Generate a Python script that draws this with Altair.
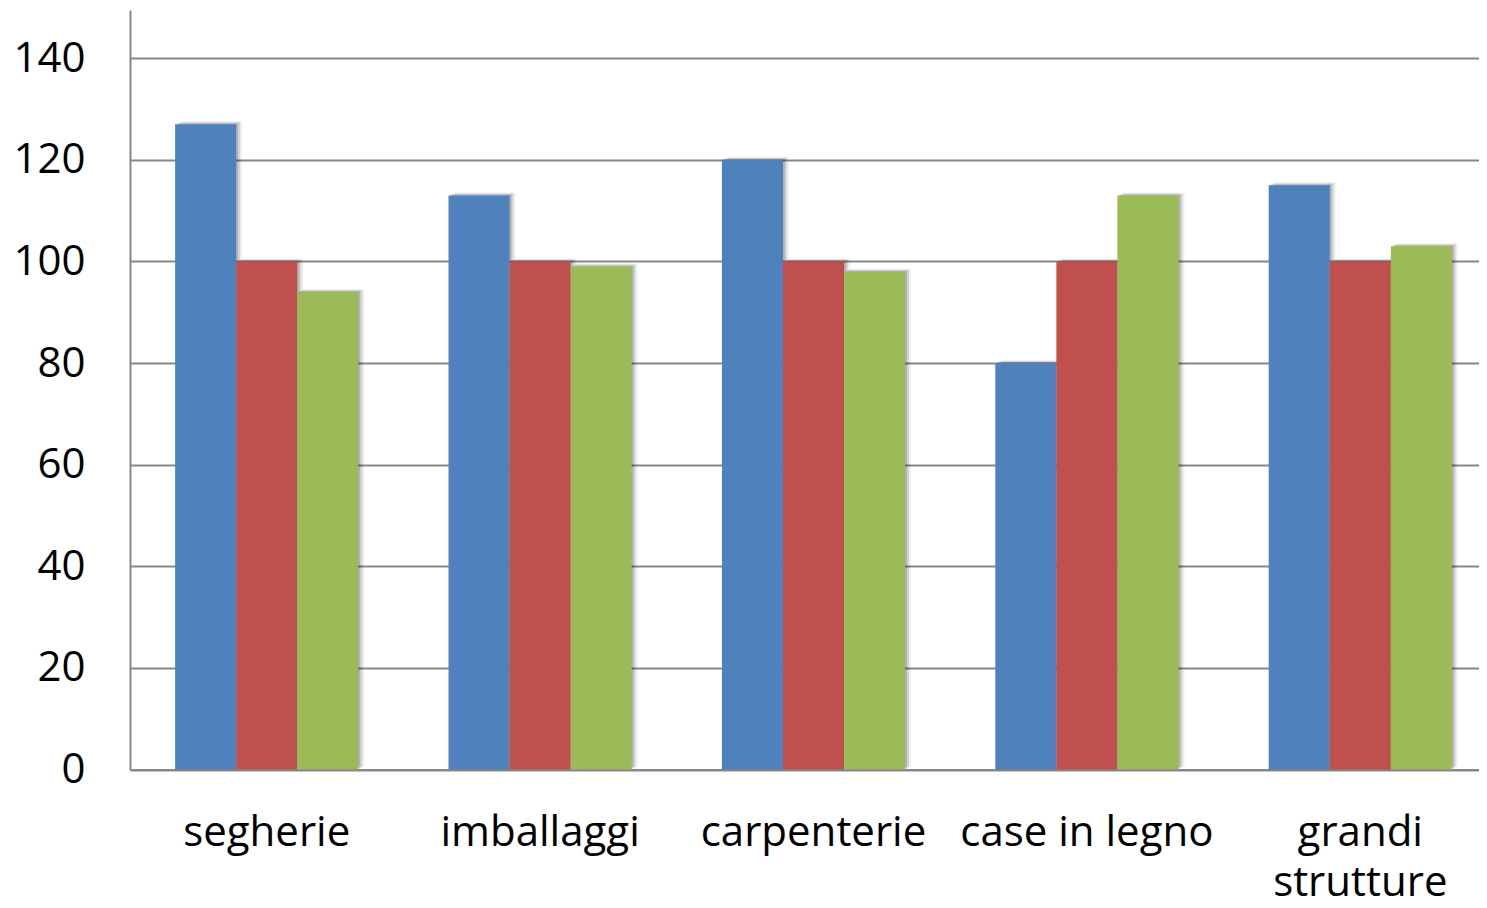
import altair as alt
import pandas as pd

categories = ["segherie", "imballaggi", "carpenterie", "case in legno", "grandi strutture"]
series = ["Serie 1", "Serie 2", "Serie 3"]
serie1 = [127, 113, 120, 80, 115]
serie2 = [100, 100, 100, 100, 100]
serie3 = [94, 99, 98, 113, 103]
colors = ["#4F81BD", "#C0504D", "#9BBB59"]
y_ticks = [0, 20, 40, 60, 80, 100, 120, 140]

rows = []
for s, vals in zip(series, [serie1, serie2, serie3]):
    for c, v in zip(categories, vals):
        rows.append({"categoria": c, "serie": s, "valore": v})
df = pd.DataFrame(rows)

FONT = "Open Sans"
GRAY = "#878787"
BAND = 1367 / 5 * (1 - 0.33)

x = alt.X(
    "categoria:N",
    sort=categories,
    scale=alt.Scale(range=[0, 1367], paddingInner=0.33, paddingOuter=0.165),
    axis=alt.Axis(
        title=None, labelAngle=0, labelFont=FONT, labelFontSize=42, labelColor="#000",
        labelPadding=43, labelLineHeight=50, labelLimit=500, labelOverlap=False,
        labelExpr="datum.value == 'grandi strutture' ? ['grandi', 'strutture'] : datum.label",
        domainColor=GRAY, domainWidth=2, ticks=False, grid=False, labelBaseline="top",
    ),
)
y = alt.Y(
    "valore:Q",
    scale=alt.Scale(domain=[0, 149.5], nice=False),
    axis=alt.Axis(
        title=None, values=y_ticks, labelFont=FONT, labelFontSize=42, labelColor="#000",
        labelPadding=45, ticks=False, domainColor=GRAY, domainWidth=2,
        gridColor=GRAY, gridWidth=2,
    ),
)
col = alt.Color("serie:N", sort=series, scale=alt.Scale(domain=series, range=colors), legend=None)


def shadow_layer(dx, dy, op):
    xo = alt.XOffset("serie:N", sort=series,
                     scale=alt.Scale(range=[dx, BAND + dx], paddingInner=0, paddingOuter=0))
    return alt.Chart(df).mark_bar(color="#000000", opacity=op, yOffset=dy).encode(
        x=x, y=y, xOffset=xo
    )


shadows = [shadow_layer(dx, dy, op) for dx, dy, op in [(2, -1, 0.16), (4, -2, 0.11), (6, -3, 0.06)]]
xoff = alt.XOffset("serie:N", sort=series, scale=alt.Scale(paddingInner=0, paddingOuter=0))
bars = alt.Chart(df).mark_bar().encode(x=x, y=y, xOffset=xoff, color=col)

chart = alt.layer(*shadows, bars).resolve_scale(xOffset="independent").properties(
    width=1349, height=759.5,
    autosize=alt.AutoSizeParams(type="none"),
    padding={"left": 122, "top": 2, "right": 0, "bottom": 130},
    background="white",
).configure_view(stroke=None)

chart.save("out.html", embed_options={"renderer": "svg", "actions": False})
